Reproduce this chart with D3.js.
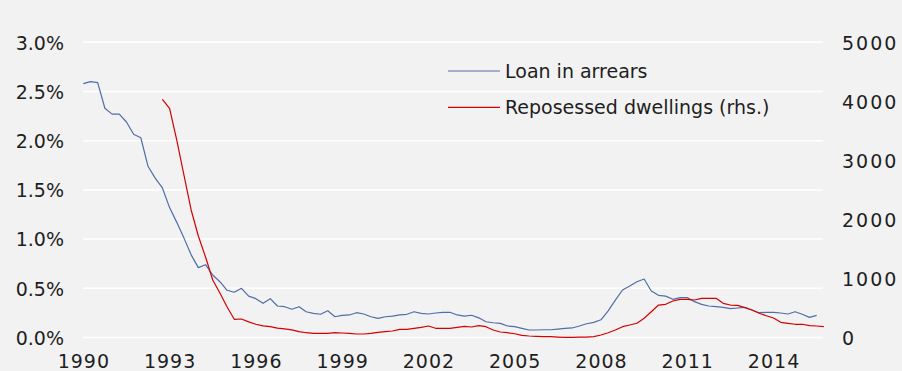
<!DOCTYPE html>
<html>
<head>
<meta charset="utf-8">
<script src="https://cdn.jsdelivr.net/npm/d3@7"></script>
<style>
  html, body { margin: 0; padding: 0; background: #f2f2f2; }
  svg { display: block; }
  text { font-family: "DejaVu Sans", sans-serif; fill: #1e1e1e; }
</style>
</head>
<body>
<svg id="chart" width="902" height="371"></svg>
<script>
// ---- data (quarterly, first quarter of 1990 = index 0) ----
const arrearsStart = 1990;      // 1990 Q1
const reposStart = 1992.75;     // 1992 Q4
const arrears = [2.58,2.60,2.59,2.33,2.27,2.27,2.19,2.065,2.03,1.74,1.62,1.52,1.32,1.17,1.01,0.84,
  0.71,0.74,0.635,0.567,0.48,0.46,0.50,0.42,0.395,0.347,0.395,0.32,0.313,0.287,0.313,0.262,
  0.246,0.236,0.272,0.211,0.225,0.229,0.252,0.239,0.211,0.195,0.211,0.218,0.229,0.236,0.262,0.246,
  0.239,0.249,0.256,0.256,0.229,0.218,0.226,0.20,0.16,0.15,0.144,0.117,0.11,0.093,0.076,0.076,
  0.079,0.079,0.086,0.093,0.097,0.117,0.14,0.154,0.18,0.27,0.38,0.483,0.523,0.567,0.594,0.473,
  0.429,0.42,0.388,0.405,0.405,0.364,0.337,0.32,0.313,0.307,0.293,0.30,0.307,0.28,0.252,0.256,
  0.256,0.249,0.239,0.262,0.236,0.205,0.225];
const repossessed = [4034,3882,3345,2752,2160,1719,1363,974,754,516,308,313,265,225,197,183,
  158,146,128,100,81,71,71,71,81,76,71,59,59,71,88,98,
  110,139,139,156,173,195,156,156,156,173,190,178,200,183,127,93,
  81,64,37,25,20,14,14,8,3,3,8,8,14,42,80,127,
  183,212,241,325,437,550,562,618,647,647,635,664,664,664,579,550,
  545,505,466,410,369,330,257,240,224,224,200,195,183];
const xTicks = [1990,1993,1996,1999,2002,2005,2008,2011,2014];
const leftTicks = [0,0.5,1.0,1.5,2.0,2.5,3.0];
const rightTicks = [0,1000,2000,3000,4000,5000];
const seriesNames = ["Loan in arrears","Reposessed dwellings (rhs.)"];

// ---- layout ----
const svg = d3.select("#chart");
const x = d3.scaleLinear().domain([1990, 2015.72]).range([83.3, 823]);
const yL = d3.scaleLinear().domain([0, 3]).range([337.5, 42.3]);
const yR = d3.scaleLinear().domain([0, 5000]).range([337.5, 42.3]);

// gridlines
svg.append("g").selectAll("line").data(leftTicks).join("line")
  .attr("x1", 83).attr("x2", 823)
  .attr("y1", d => yL(d)).attr("y2", d => yL(d))
  .attr("stroke", "#ffffff").attr("stroke-width", 1.5);

// left axis
const gl = svg.append("g").attr("transform", "translate(64,0)")
  .call(d3.axisLeft(yL).tickValues(leftTicks).tickSize(0).tickPadding(0)
    .tickFormat(d => d.toFixed(1) + "%"));
gl.select(".domain").remove();
gl.selectAll("text").attr("font-size", 19).attr("fill", "#1e1e1e")
  .style("font-family", "DejaVu Sans").attr("dy", "0.36em");

// right axis
const gr = svg.append("g").attr("transform", "translate(842,0)")
  .call(d3.axisRight(yR).tickValues(rightTicks).tickSize(0).tickPadding(0)
    .tickFormat(d3.format("d")));
gr.select(".domain").remove();
gr.selectAll("text").attr("font-size", 19).attr("fill", "#1e1e1e")
  .style("font-family", "DejaVu Sans").style("letter-spacing", "2px").attr("dy", "0.36em");

// bottom axis
const gb = svg.append("g").attr("transform", "translate(0,368)")
  .call(d3.axisBottom(x).tickValues(xTicks).tickSize(0).tickPadding(0)
    .tickFormat(d3.format("d")));
gb.select(".domain").remove();
gb.selectAll("text").attr("font-size", 19).attr("fill", "#1e1e1e")
  .style("font-family", "DejaVu Sans").style("letter-spacing", "1px").attr("dy", "0");

// lines
const blueLine = d3.line().x((d, i) => x(arrearsStart + i / 4)).y(d => yL(d));
const redLine = d3.line().x((d, i) => x(reposStart + i / 4)).y(d => yR(d));
svg.append("path").datum(arrears).attr("d", blueLine)
  .attr("fill", "none").attr("stroke", "#4e6fa6").attr("stroke-width", 1.2)
  .attr("stroke-linejoin", "round");
svg.append("path").datum(repossessed).attr("d", redLine)
  .attr("fill", "none").attr("stroke", "#d40000").attr("stroke-width", 1.2)
  .attr("stroke-linejoin", "round");

// legend
const legendColors = ["#4e6fa6", "#d40000"];
const legY = [71, 107.3];
const lg = svg.append("g");
seriesNames.forEach((name, i) => {
  lg.append("line").attr("x1", 448).attr("x2", 500)
    .attr("y1", legY[i]).attr("y2", legY[i])
    .attr("stroke", legendColors[i]).attr("stroke-width", 1.2);
  lg.append("text").attr("x", 505).attr("y", legY[i]).attr("dy", "0.36em")
    .attr("font-size", 19).text(name);
});
</script>
</body>
</html>
